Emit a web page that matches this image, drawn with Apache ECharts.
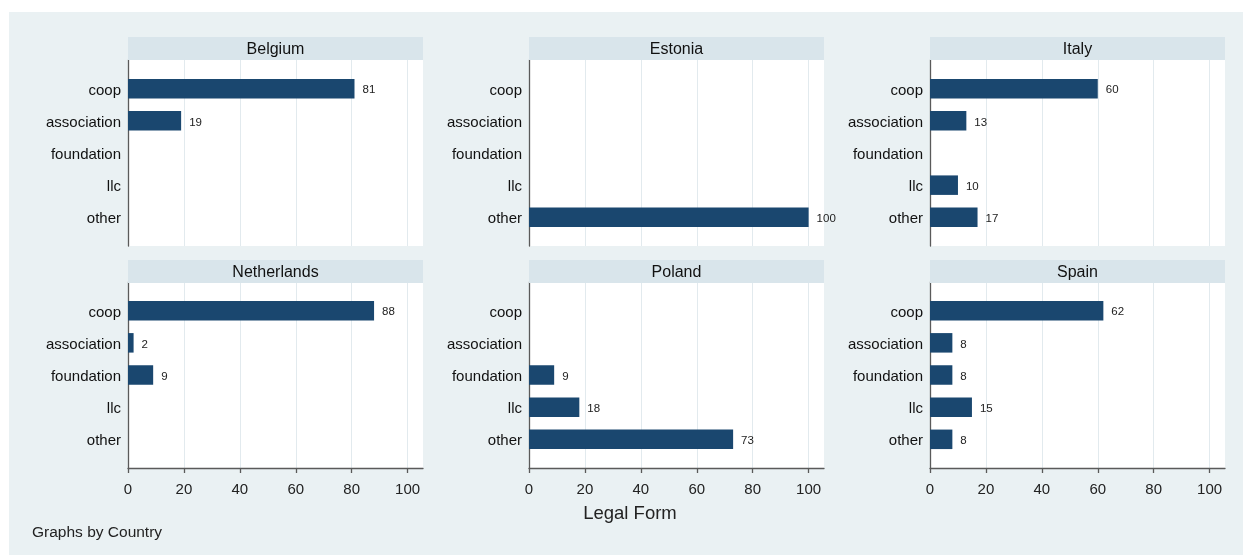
<!DOCTYPE html>
<html>
<head>
<meta charset="utf-8">
<script src="https://cdn.jsdelivr.net/npm/echarts@6/dist/echarts.min.js"></script>
<style>
  html, body { margin: 0; padding: 0; background: #ffffff; }
  #wrap { position: relative; width: 1243px; height: 556px; background: #ffffff; }
  #bg { position: absolute; left: 9px; top: 12px; right: 0; bottom: 1px; background: #eaf1f3; }
  #chart { position: absolute; left: 0; top: 0; width: 1243px; height: 556px; }
</style>
</head>
<body>
<div id="wrap"><div id="bg"></div><div id="chart"></div></div>
<script>
// Share of organisations by legal form, one panel per country
const countries = ['Belgium', 'Estonia', 'Italy', 'Netherlands', 'Poland', 'Spain'];
const legalForms = ['coop', 'association', 'foundation', 'llc', 'other'];

const belgium     = [81, 19, 0, 0, 0];
const estonia     = [0, 0, 0, 0, 100];
const italy       = [60, 13, 0, 10, 17];
const netherlands = [88, 2, 9, 0, 0];
const poland      = [0, 0, 9, 18, 73];
const spain       = [62, 8, 8, 15, 8];

const panelValues = [belgium, estonia, italy, netherlands, poland, spain];

const xTicks = { min: 0, max: 105.5, interval: 20 };

// panel geometry
const colLeft = [128, 529, 930];
const stripTop = [37, 260];
const plotTop = [60, 282];
const panelW = 295;
const plotH = 186;
const stripH = 23;
const bandPad = 12.6;

const FONT = '"Liberation Sans", Arial, Helvetica, sans-serif';
const BAR = '#1a476f';
const GRID = '#e2eaee';
const AXIS = '#5a5a5a';
// one colour per tick line (0..100 and the axis end); the end line stays invisible
const gridColors = [GRID, GRID, GRID, GRID, GRID, GRID, 'rgba(0,0,0,0)'];

const grids = [], xAxes = [], yAxes = [], series = [], graphics = [];

countries.forEach((name, i) => {
  const row = Math.floor(i / 3), col = i % 3;
  const bottomRow = row === 1;

  // white plot frame with vertical gridlines and axes
  const frameIdx = grids.length;
  grids.push({
    left: colLeft[col], top: plotTop[row], width: panelW, height: plotH,
    show: true, backgroundColor: '#ffffff', borderWidth: 0
  });
  xAxes.push({
    gridIndex: frameIdx, type: 'value', position: 'bottom',
    min: xTicks.min, max: xTicks.max, interval: xTicks.interval,
    axisLine: { show: bottomRow, onZero: false, lineStyle: { color: AXIS, width: 1.3 } },
    axisTick: { show: bottomRow, length: 5, lineStyle: { color: AXIS, width: 1.3 } },
    axisLabel: {
      show: bottomRow, showMaxLabel: false, margin: 14,
      fontSize: 15, color: '#222', fontFamily: FONT
    },
    splitLine: { show: true, lineStyle: { color: gridColors, width: 1 } }
  });
  yAxes.push({
    gridIndex: frameIdx, type: 'value', min: 0, max: 1,
    axisLine: { show: true, onZero: false, lineStyle: { color: AXIS, width: 1.3 } },
    axisTick: { show: false }, axisLabel: { show: false }, splitLine: { show: false }
  });

  // bars grid inside the frame
  const barIdx = grids.length;
  grids.push({
    left: colLeft[col], top: plotTop[row] + bandPad,
    width: panelW, height: plotH - 2 * bandPad
  });
  xAxes.push({
    gridIndex: barIdx, type: 'value', show: false,
    min: xTicks.min, max: xTicks.max
  });
  yAxes.push({
    gridIndex: barIdx, type: 'category', data: legalForms, inverse: true,
    axisLine: { show: false }, axisTick: { show: false }, splitLine: { show: false },
    axisLabel: {
      margin: 7,
      formatter: v => '{t|' + v + '}',
      rich: { t: { fontSize: 15, color: '#111', fontFamily: FONT, padding: [4, 0, 0, 0] } }
    }
  });
  series.push({
    type: 'bar', xAxisIndex: barIdx, yAxisIndex: barIdx,
    data: panelValues[i], barWidth: 19.5,
    itemStyle: { color: BAR, borderWidth: 0 },
    label: {
      show: true, position: 'right', distance: 8,
      formatter: p => (p.value ? '{v|' + p.value + '}' : ''),
      rich: { v: { fontSize: 11.5, color: '#222', fontFamily: FONT, padding: [3, 0, 0, 0] } }
    },
    silent: true, animation: false
  });

  // title strip above each panel
  graphics.push({
    type: 'rect', shape: { x: colLeft[col], y: stripTop[row], width: panelW, height: stripH },
    style: { fill: '#d9e5eb' }, z: 1
  });
  graphics.push({
    type: 'text', x: colLeft[col] + panelW / 2, y: stripTop[row] + stripH / 2 + 1,
    style: { text: name, fontSize: 16, fill: '#111', fontFamily: FONT, align: 'center', verticalAlign: 'middle' },
    z: 2
  });
});

graphics.push({
  type: 'text', x: 630, y: 514,
  style: { text: 'Legal Form', fontSize: 18.5, fill: '#222', fontFamily: FONT, align: 'center', verticalAlign: 'middle' }
});
graphics.push({
  type: 'text', x: 32, y: 533,
  style: { text: 'Graphs by Country', fontSize: 15.5, fill: '#222', fontFamily: FONT, align: 'left', verticalAlign: 'middle' }
});

const chart = echarts.init(document.getElementById('chart'), null, { renderer: 'canvas' });
chart.setOption({
  backgroundColor: 'transparent',
  animation: false,
  grid: grids,
  xAxis: xAxes,
  yAxis: yAxes,
  series: series,
  graphic: graphics
});
</script>
</body>
</html>
